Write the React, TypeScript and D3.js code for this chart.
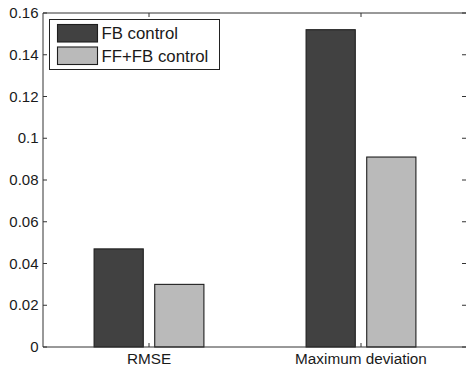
import React from "react";
import * as d3 from "d3";

const categories = ["RMSE", "Maximum deviation"];
const seriesNames = ["FB control", "FF+FB control"];
const fbValues = [0.047, 0.152];
const ffFbValues = [0.030, 0.091];
const yTicks = [0, 0.02, 0.04, 0.06, 0.08, 0.1, 0.12, 0.14, 0.16];
const yTickLabels = ["0", "0.02", "0.04", "0.06", "0.08", "0.1", "0.12", "0.14", "0.16"];

const seriesFill = ["#414141", "#bababa"];

export default function App() {
  const W = 466;
  const H = 368;
  const left = 43;
  const right = 467;
  const top = 13;
  const bottom = 347;

  // Category positions 1..n on a [0.5, n+0.5] domain, like a grouped bar plot
  const x = d3.scaleLinear().domain([0.5, categories.length + 0.5]).range([left, right]);
  const y = d3.scaleLinear().domain([0, 0.16]).range([bottom, top]);
  const unit = x(1) - x(0);
  const offset = 0.143 * unit;
  const barW = 0.232 * unit;
  const series = [fbValues, ffFbValues];
  const font = "'Liberation Sans', Arial, sans-serif";
  const axisColor = "#333";
  const textColor = "#1a1a1a";
  const tickLen = 4;

  return (
    <svg width={W} height={H} style={{ position: "absolute", left: 0, top: 0, background: "#fff" }}>
      <rect x={0} y={0} width={W} height={H} fill="#fff" />
      {/* bars */}
      {categories.map((c, i) =>
        series.map((vals, s) => {
          const cx = x(i + 1) + (s === 0 ? -offset : offset);
          return (
            <rect
              key={c + s}
              x={cx - barW / 2}
              y={y(vals[i])}
              width={barW}
              height={y(0) - y(vals[i])}
              fill={seriesFill[s]}
              stroke="#1e1e1e"
              strokeWidth={1.1}
            />
          );
        })
      )}
      {/* axes box */}
      <line x1={left} x2={right} y1={bottom} y2={bottom} stroke={axisColor} strokeWidth={1} />
      <line x1={left} x2={right} y1={top} y2={top} stroke={axisColor} strokeWidth={1} />
      <line x1={left} x2={left} y1={top} y2={bottom} stroke={axisColor} strokeWidth={1} />
      <line x1={right} x2={right} y1={top} y2={bottom} stroke={axisColor} strokeWidth={1} />
      {/* y ticks */}
      {yTicks.map((t, i) => (
        <g key={"yt" + i}>
          <line x1={left} x2={left + tickLen} y1={y(t)} y2={y(t)} stroke={axisColor} />
          <line x1={right - tickLen - 1} x2={right - 1} y1={y(t)} y2={y(t)} stroke={axisColor} />
          <text
            x={left - 4.5}
            y={y(t) + 5}
            textAnchor="end"
            fontFamily={font}
            fontSize={15}
            fill={textColor}
          >
            {yTickLabels[i]}
          </text>
        </g>
      ))}
      {/* x ticks and category labels */}
      {categories.map((c, i) => (
        <g key={"xt" + i}>
          <line x1={x(i + 1)} x2={x(i + 1)} y1={bottom} y2={bottom - tickLen} stroke={axisColor} />
          <line x1={x(i + 1)} x2={x(i + 1)} y1={top} y2={top + tickLen} stroke={axisColor} />
          <text
            x={x(i + 1)}
            y={364}
            textAnchor="middle"
            fontFamily={font}
            fontSize={15.3}
            fill={textColor}
          >
            {c}
          </text>
        </g>
      ))}
      {/* legend */}
      <g>
        <rect x={49.5} y={19.5} width={170} height={50} fill="#fff" stroke="#222" strokeWidth={1} />
        {seriesNames.map((n, s) => (
          <g key={n}>
            <rect
              x={57.5}
              y={24.5 + s * 22.5}
              width={40}
              height={17.5}
              fill={seriesFill[s]}
              stroke="#1e1e1e"
              strokeWidth={1.1}
            />
            <text x={101.5} y={38.8 + s * 23.5} fontFamily={font} fontSize={16.8} fill={textColor}>
              {n}
            </text>
          </g>
        ))}
      </g>
    </svg>
  );
}
